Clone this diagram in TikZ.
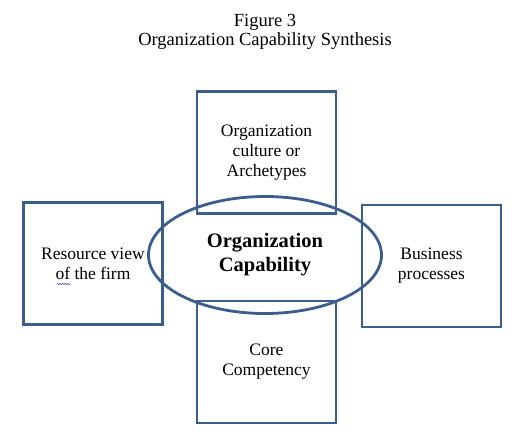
\documentclass[tikz,border=0pt]{standalone}
\usepackage{fontspec}
\setmainfont{Liberation Serif}
\usetikzlibrary{shapes.geometric,decorations.pathmorphing}
\definecolor{edgeblue}{HTML}{3C5E8C}
\definecolor{squig}{HTML}{5050C8}
\begin{document}
\begin{tikzpicture}[x=1pt,y=-1pt,
  box/.style={draw=edgeblue, line width=2.8pt, minimum width=139pt, minimum height=122pt,
    align=center, inner sep=0pt, font=\fontsize{17.5}{20}\selectfont},
  core/.style={draw=edgeblue, line width=2.8pt, ellipse, minimum width=233pt, minimum height=117pt,
    align=center, inner sep=0pt, font=\bfseries\fontsize{20.5}{24}\selectfont},
  title/.style={align=center, font=\fontsize{18.5}{19.5}\selectfont}]
\useasboundingbox (0,0) rectangle (531,444);
\node[title] (ttl) at (265,32) {Figure 3\\Organization Capability Synthesis};
\node[box] (top) at (266.5,152.5) {Organization\\culture or\\Archetypes};
\node[box] (left) at (93,263.5) {Resource view\\of the firm};
\node[box] (right) at (431.5,266) {Business\\processes};
\node[box] (bottom) at (266.5,362) {Core\\Competency};
\node[core] (cap) at (265,255) {Organization\\Capability};
\coordinate (sq1) at (57,284);
\coordinate (sq2) at (71,284);
\draw[squig, line width=0.5pt, decorate, decoration={snake, amplitude=0.8pt, segment length=2.5pt}] (sq1) -- (sq2);
\end{tikzpicture}
\end{document}
